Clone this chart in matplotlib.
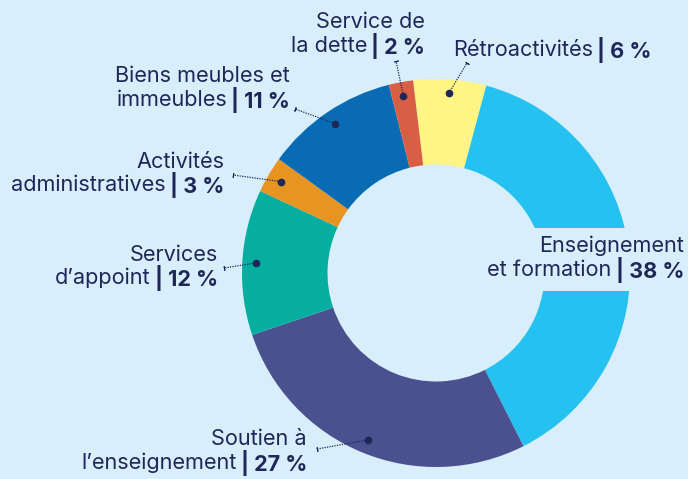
import matplotlib
matplotlib.use('Agg')
import matplotlib.pyplot as plt
import numpy as np

# ---- data ----
categories = ["Rétroactivités", "Enseignement et formation", "Soutien à l'enseignement",
              "Services d'appoint", "Activités administratives",
              "Biens meubles et immeubles", "Service de la dette"]
values = [6, 38, 27, 12, 3, 11, 2]
colors = ["#fff585", "#25c1f0", "#4b518f", "#05ae9f", "#e89422", "#0a6bb5", "#d85e44"]
pct_labels = ["| 6 %", "| 38 %", "| 27 %", "| 12 %", "| 3 %", "| 11 %", "| 2 %"]
label_text = [
    ["Rétroactivités"],
    ["Enseignement", "et formation"],
    ["Soutien à", "l’enseignement"],
    ["Services", "d’appoint"],
    ["Activités", "administratives"],
    ["Biens meubles et", "immeubles"],
    ["Service de", "la dette"],
]

BG = "#d8eefa"
NAVY = "#1e2858"
W, H = 688, 479
FONT = "Inter"
FS = 15.6

fig = plt.figure(figsize=(W / 100, H / 100), dpi=100, facecolor=BG)
ax = fig.add_axes([0, 0, 1, 1])
ax.set_xlim(0, W)
ax.set_ylim(0, H)
ax.set_facecolor(BG)
ax.axis('off')

cx, cy = 436, H - 273
R = 194
r_in = 108.5
start = 96.8
wedges, _ = ax.pie(values, colors=colors, startangle=start, counterclock=False,
                   center=(cx, cy), radius=R,
                   wedgeprops=dict(width=R - r_in, linewidth=0))
ax.set_xlim(0, W)
ax.set_ylim(0, H)
ax.set_aspect('equal')

fig.canvas.draw()
renderer = fig.canvas.get_renderer()

# label layout (image pixel coords): anchor x, line y's, alignment, leader end
layout = [
    dict(x=453, ys=[50], ha='left', end=(467, 63)),
    dict(x=684, ys=[246, 270], ha='right', end=None, box=True),
    dict(x=307, ys=[439, 463], ha='right', end=(317, 449)),
    dict(x=218, ys=[255, 278], ha='right', end=(224, 268)),
    dict(x=224, ys=[162, 185], ha='right', end=(233, 175)),
    dict(x=290, ys=[76, 100], ha='right', end=(295, 109)),
    dict(x=425, ys=[22, 46], ha='right', end=(396, 61)),
]

GAP = 4


def put(x, y, s, ha, weight):
    return ax.text(x, y, s, ha=ha, va='center', fontsize=FS, family=FONT,
                   color=NAVY, fontweight=weight, zorder=5)


for i, w in enumerate(wedges):
    lay = layout[i]
    lines = label_text[i]
    texts = []
    for j, line in enumerate(lines):
        y = H - lay['ys'][j]
        last = (j == len(lines) - 1)
        if lay['ha'] == 'right':
            if last:
                tb = put(lay['x'], y, pct_labels[i], 'right', 'bold')
                bw = tb.get_window_extent(renderer).width
                tr = put(lay['x'] - bw - GAP, y, line, 'right', 'normal')
                texts += [tb, tr]
            else:
                texts.append(put(lay['x'], y, line, 'right', 'normal'))
        else:
            tr = put(lay['x'], y, line, 'left', 'normal')
            texts.append(tr)
            if last:
                rw = tr.get_window_extent(renderer).width
                texts.append(put(lay['x'] + rw + GAP, y, pct_labels[i], 'left', 'bold'))
    if lay.get('box'):
        bbs = [t.get_window_extent(renderer) for t in texts]
        x0 = min(b.x0 for b in bbs) - 12
        x1 = W
        y0 = min(b.y0 for b in bbs) - 8
        y1 = max(b.y1 for b in bbs) + 8
        ax.add_patch(plt.Rectangle((x0, y0), x1 - x0, y1 - y0, facecolor=BG,
                                   edgecolor='none', zorder=4))
    if lay['end'] is not None:
        mid = np.deg2rad((w.theta1 + w.theta2) / 2)
        rd = 0.93 * R
        dx, dy = cx + rd * np.cos(mid), cy + rd * np.sin(mid)
        ex, ey = lay['end'][0], H - lay['end'][1]
        ax.plot([dx, ex], [dy, ey], color=NAVY, lw=0.9, linestyle=(0, (1, 1)), zorder=6)
        ax.plot([dx], [dy], marker='o', ms=4.5, color=NAVY, zorder=7)
        ang = np.degrees(np.arctan2(ey - dy, ex - dx))
        ax.plot([ex], [ey], marker=(2, 2, ang), ms=3, mew=0.8, color=NAVY, zorder=7)

fig.savefig("out.png", dpi=100, facecolor=BG)
